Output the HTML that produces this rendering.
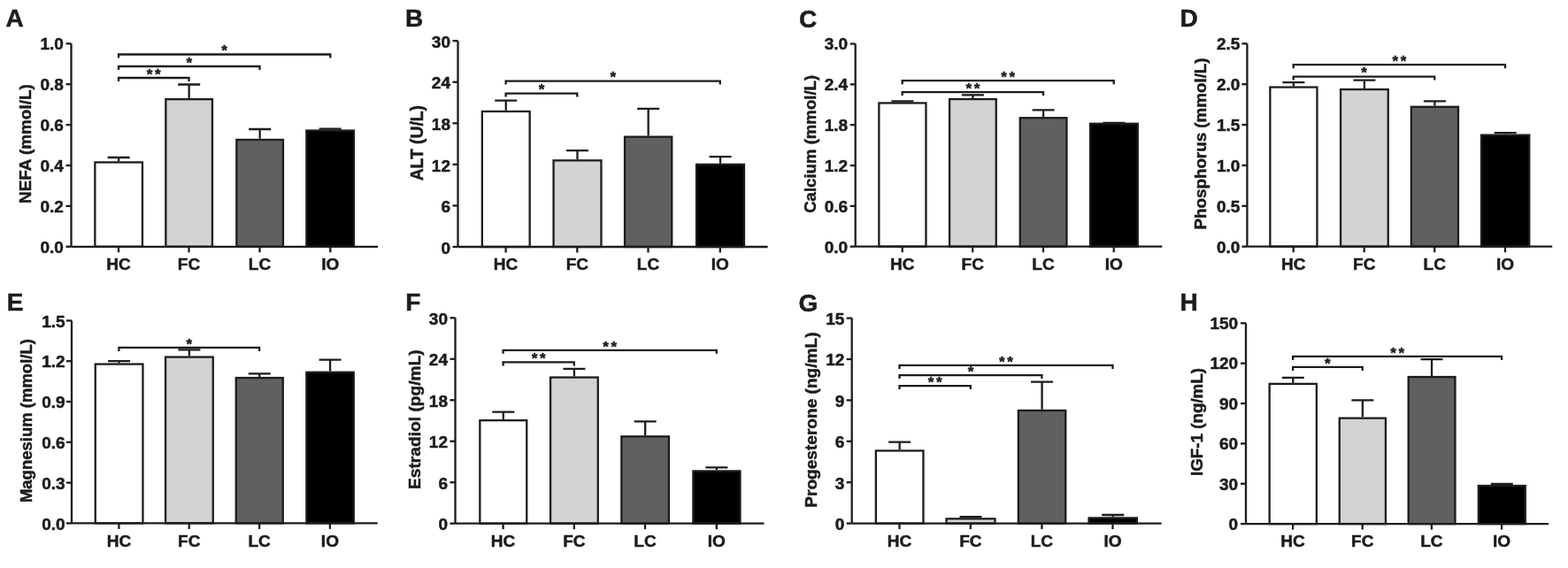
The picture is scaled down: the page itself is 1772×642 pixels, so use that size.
<!DOCTYPE html>
<html><head><meta charset="utf-8"><style>
html,body{margin:0;padding:0;background:#fff;}
svg{display:block;}
text{font-family:"Liberation Sans", Arial, sans-serif;fill:#1c1c1c;stroke:#1c1c1c;stroke-width:0.5px;}
.st{stroke:#1c1c1c;stroke-width:0.4px;letter-spacing:2.7px;}
</style></head><body>
<svg width="1772" height="642" viewBox="0 0 1772 642">
<rect width="1772" height="642" fill="#fff"/>
<text x="6.5" y="30.4" font-size="28" font-weight="bold">A</text>
<path d="M134.15 182.3V178M121.65 178H146.65" fill="none" stroke="#1c1c1c" stroke-width="2.3"/>
<rect x="107.35" y="183.45" width="53.6" height="95.35" fill="#ffffff" stroke="#1c1c1c" stroke-width="2.3"/>
<path d="M213.65 111V95.5M201.15 95.5H226.15" fill="none" stroke="#1c1c1c" stroke-width="2.3"/>
<rect x="187.35" y="112.15" width="52.6" height="166.65" fill="#d3d3d3" stroke="#1c1c1c" stroke-width="2.3"/>
<path d="M293.65 156.8V146M281.15 146H306.15" fill="none" stroke="#1c1c1c" stroke-width="2.3"/>
<rect x="267.35" y="157.95" width="52.6" height="120.85" fill="#606060" stroke="#1c1c1c" stroke-width="2.3"/>
<path d="M373.15 146.4V145.6M360.65 145.6H385.65" fill="none" stroke="#1c1c1c" stroke-width="2.3"/>
<rect x="346.35" y="147.55" width="53.6" height="131.25" fill="#000000" stroke="#1c1c1c" stroke-width="2.3"/>
<path d="M80.5 49.3V278.8M80.5 278.8H427" fill="none" stroke="#1c1c1c" stroke-width="2.3"/>
<path d="M74.5 278.8H80.5" stroke="#1c1c1c" stroke-width="2.3"/>
<text x="71.9" y="285.9" text-anchor="end" font-size="19" font-weight="bold">0.0</text>
<path d="M74.5 232.9H80.5" stroke="#1c1c1c" stroke-width="2.3"/>
<text x="71.9" y="240" text-anchor="end" font-size="19" font-weight="bold">0.2</text>
<path d="M74.5 187H80.5" stroke="#1c1c1c" stroke-width="2.3"/>
<text x="71.9" y="194.1" text-anchor="end" font-size="19" font-weight="bold">0.4</text>
<path d="M74.5 141.1H80.5" stroke="#1c1c1c" stroke-width="2.3"/>
<text x="71.9" y="148.2" text-anchor="end" font-size="19" font-weight="bold">0.6</text>
<path d="M74.5 95.2H80.5" stroke="#1c1c1c" stroke-width="2.3"/>
<text x="71.9" y="102.3" text-anchor="end" font-size="19" font-weight="bold">0.8</text>
<path d="M74.5 49.3H80.5" stroke="#1c1c1c" stroke-width="2.3"/>
<text x="71.9" y="56.4" text-anchor="end" font-size="19" font-weight="bold">1.0</text>
<path d="M134 278.8V285.3" stroke="#1c1c1c" stroke-width="2.3"/>
<text x="134" y="305.1" text-anchor="middle" font-size="19" font-weight="bold">HC</text>
<path d="M213.5 278.8V285.3" stroke="#1c1c1c" stroke-width="2.3"/>
<text x="213.5" y="305.1" text-anchor="middle" font-size="19" font-weight="bold">FC</text>
<path d="M293.5 278.8V285.3" stroke="#1c1c1c" stroke-width="2.3"/>
<text x="293.5" y="305.1" text-anchor="middle" font-size="19" font-weight="bold">LC</text>
<path d="M373.3 278.8V285.3" stroke="#1c1c1c" stroke-width="2.3"/>
<text x="373.3" y="305.1" text-anchor="middle" font-size="19" font-weight="bold">IO</text>
<path d="M134 92V88H213.5V92" fill="none" stroke="#1c1c1c" stroke-width="2.3"/>
<text x="175.1" y="89.8" text-anchor="middle" font-size="17" font-weight="bold" class="st">**</text>
<path d="M134 79V75H293.5V79" fill="none" stroke="#1c1c1c" stroke-width="2.3"/>
<text x="215.1" y="76.8" text-anchor="middle" font-size="17" font-weight="bold" class="st">*</text>
<path d="M134 65.5V61.5H373.3V65.5" fill="none" stroke="#1c1c1c" stroke-width="2.3"/>
<text x="255" y="63.3" text-anchor="middle" font-size="17" font-weight="bold" class="st">*</text>
<text transform="translate(35.3 162.6) rotate(-90)" text-anchor="middle" font-size="18.9" font-weight="bold">NEFA (mmol/L)</text>
<text x="458" y="30.4" font-size="28" font-weight="bold">B</text>
<path d="M571.75 124.8V113.6M559.25 113.6H584.25" fill="none" stroke="#1c1c1c" stroke-width="2.3"/>
<rect x="544.85" y="125.95" width="53.8" height="153.05" fill="#ffffff" stroke="#1c1c1c" stroke-width="2.3"/>
<path d="M652.5 180.2V170.2M640 170.2H665" fill="none" stroke="#1c1c1c" stroke-width="2.3"/>
<rect x="625.55" y="181.35" width="53.9" height="97.65" fill="#d3d3d3" stroke="#1c1c1c" stroke-width="2.3"/>
<path d="M732.65 153.5V122.8M720.15 122.8H745.15" fill="none" stroke="#1c1c1c" stroke-width="2.3"/>
<rect x="706.05" y="154.65" width="53.2" height="124.35" fill="#606060" stroke="#1c1c1c" stroke-width="2.3"/>
<path d="M814 184.7V177.1M801.5 177.1H826.5" fill="none" stroke="#1c1c1c" stroke-width="2.3"/>
<rect x="787.05" y="185.85" width="53.9" height="93.15" fill="#000000" stroke="#1c1c1c" stroke-width="2.3"/>
<path d="M517.5 46.2V279M517.5 279H867.6" fill="none" stroke="#1c1c1c" stroke-width="2.3"/>
<path d="M511.5 279H517.5" stroke="#1c1c1c" stroke-width="2.3"/>
<text x="509" y="286.7" text-anchor="end" font-size="19" font-weight="bold">0</text>
<path d="M511.5 232.44H517.5" stroke="#1c1c1c" stroke-width="2.3"/>
<text x="509" y="240.14" text-anchor="end" font-size="19" font-weight="bold">6</text>
<path d="M511.5 185.88H517.5" stroke="#1c1c1c" stroke-width="2.3"/>
<text x="509" y="193.58" text-anchor="end" font-size="19" font-weight="bold">12</text>
<path d="M511.5 139.32H517.5" stroke="#1c1c1c" stroke-width="2.3"/>
<text x="509" y="147.02" text-anchor="end" font-size="19" font-weight="bold">18</text>
<path d="M511.5 92.76H517.5" stroke="#1c1c1c" stroke-width="2.3"/>
<text x="509" y="100.46" text-anchor="end" font-size="19" font-weight="bold">24</text>
<path d="M511.5 46.2H517.5" stroke="#1c1c1c" stroke-width="2.3"/>
<text x="509" y="53.9" text-anchor="end" font-size="19" font-weight="bold">30</text>
<path d="M571.6 279V285.5" stroke="#1c1c1c" stroke-width="2.3"/>
<text x="571.6" y="305.3" text-anchor="middle" font-size="19" font-weight="bold">HC</text>
<path d="M652.3 279V285.5" stroke="#1c1c1c" stroke-width="2.3"/>
<text x="652.3" y="305.3" text-anchor="middle" font-size="19" font-weight="bold">FC</text>
<path d="M732.5 279V285.5" stroke="#1c1c1c" stroke-width="2.3"/>
<text x="732.5" y="305.3" text-anchor="middle" font-size="19" font-weight="bold">LC</text>
<path d="M813.8 279V285.5" stroke="#1c1c1c" stroke-width="2.3"/>
<text x="813.8" y="305.3" text-anchor="middle" font-size="19" font-weight="bold">IO</text>
<path d="M571.6 109.6V105.6H652.3V109.6" fill="none" stroke="#1c1c1c" stroke-width="2.3"/>
<text x="613.3" y="107.4" text-anchor="middle" font-size="17" font-weight="bold" class="st">*</text>
<path d="M571.6 95.6V91.6H813.8V95.6" fill="none" stroke="#1c1c1c" stroke-width="2.3"/>
<text x="694.05" y="93.4" text-anchor="middle" font-size="17" font-weight="bold" class="st">*</text>
<text transform="translate(478.4 161.65) rotate(-90)" text-anchor="middle" font-size="19.3" font-weight="bold">ALT (U/L)</text>
<text x="903" y="31.2" font-size="28" font-weight="bold">C</text>
<path d="M1019.9 115.3V114.3M1007.4 114.3H1032.4" fill="none" stroke="#1c1c1c" stroke-width="2.3"/>
<rect x="993.35" y="116.45" width="53.1" height="162.25" fill="#ffffff" stroke="#1c1c1c" stroke-width="2.3"/>
<path d="M1099.4 110.9V107.4M1086.9 107.4H1111.9" fill="none" stroke="#1c1c1c" stroke-width="2.3"/>
<rect x="1073.05" y="112.05" width="52.7" height="166.65" fill="#d3d3d3" stroke="#1c1c1c" stroke-width="2.3"/>
<path d="M1179.1 132.1V124.3M1166.6 124.3H1191.6" fill="none" stroke="#1c1c1c" stroke-width="2.3"/>
<rect x="1152.75" y="133.25" width="52.7" height="145.45" fill="#606060" stroke="#1c1c1c" stroke-width="2.3"/>
<path d="M1258.9 138.6V138.8M1246.4 138.8H1271.4" fill="none" stroke="#1c1c1c" stroke-width="2.3"/>
<rect x="1232.05" y="139.75" width="53.7" height="138.95" fill="#000000" stroke="#1c1c1c" stroke-width="2.3"/>
<path d="M966.7 49.5V278.7M966.7 278.7H1313.3" fill="none" stroke="#1c1c1c" stroke-width="2.3"/>
<path d="M960.7 278.7H966.7" stroke="#1c1c1c" stroke-width="2.3"/>
<text x="958.2" y="285.6" text-anchor="end" font-size="19" font-weight="bold">0.0</text>
<path d="M960.7 232.86H966.7" stroke="#1c1c1c" stroke-width="2.3"/>
<text x="958.2" y="239.76" text-anchor="end" font-size="19" font-weight="bold">0.6</text>
<path d="M960.7 187.02H966.7" stroke="#1c1c1c" stroke-width="2.3"/>
<text x="958.2" y="193.92" text-anchor="end" font-size="19" font-weight="bold">1.2</text>
<path d="M960.7 141.18H966.7" stroke="#1c1c1c" stroke-width="2.3"/>
<text x="958.2" y="148.08" text-anchor="end" font-size="19" font-weight="bold">1.8</text>
<path d="M960.7 95.34H966.7" stroke="#1c1c1c" stroke-width="2.3"/>
<text x="958.2" y="102.24" text-anchor="end" font-size="19" font-weight="bold">2.4</text>
<path d="M960.7 49.5H966.7" stroke="#1c1c1c" stroke-width="2.3"/>
<text x="958.2" y="56.4" text-anchor="end" font-size="19" font-weight="bold">3.0</text>
<path d="M1019.7 278.7V285.2" stroke="#1c1c1c" stroke-width="2.3"/>
<text x="1019.7" y="305" text-anchor="middle" font-size="19" font-weight="bold">HC</text>
<path d="M1099.2 278.7V285.2" stroke="#1c1c1c" stroke-width="2.3"/>
<text x="1099.2" y="305" text-anchor="middle" font-size="19" font-weight="bold">FC</text>
<path d="M1179 278.7V285.2" stroke="#1c1c1c" stroke-width="2.3"/>
<text x="1179" y="305" text-anchor="middle" font-size="19" font-weight="bold">LC</text>
<path d="M1258.7 278.7V285.2" stroke="#1c1c1c" stroke-width="2.3"/>
<text x="1258.7" y="305" text-anchor="middle" font-size="19" font-weight="bold">IO</text>
<path d="M1019.7 108.1V104.1H1179V108.1" fill="none" stroke="#1c1c1c" stroke-width="2.3"/>
<text x="1100.7" y="105.9" text-anchor="middle" font-size="17" font-weight="bold" class="st">**</text>
<path d="M1019.7 95.2V91.2H1258.7V95.2" fill="none" stroke="#1c1c1c" stroke-width="2.3"/>
<text x="1140.55" y="93" text-anchor="middle" font-size="17" font-weight="bold" class="st">**</text>
<text transform="translate(921.6 162.85) rotate(-90)" text-anchor="middle" font-size="18.6" font-weight="bold">Calcium (mmol/L)</text>
<text x="1333.5" y="30" font-size="28" font-weight="bold">D</text>
<path d="M1461.9 97.4V93.1M1449.4 93.1H1474.4" fill="none" stroke="#1c1c1c" stroke-width="2.3"/>
<rect x="1435.35" y="98.55" width="53.1" height="180.15" fill="#ffffff" stroke="#1c1c1c" stroke-width="2.3"/>
<path d="M1541.9 99.9V90.6M1529.4 90.6H1554.4" fill="none" stroke="#1c1c1c" stroke-width="2.3"/>
<rect x="1515.05" y="101.05" width="53.7" height="177.65" fill="#d3d3d3" stroke="#1c1c1c" stroke-width="2.3"/>
<path d="M1621.4 119.6V114.3M1608.9 114.3H1633.9" fill="none" stroke="#1c1c1c" stroke-width="2.3"/>
<rect x="1594.85" y="120.75" width="53.1" height="157.95" fill="#606060" stroke="#1c1c1c" stroke-width="2.3"/>
<path d="M1701.15 151.5V150.2M1688.65 150.2H1713.65" fill="none" stroke="#1c1c1c" stroke-width="2.3"/>
<rect x="1674.05" y="152.65" width="54.2" height="126.05" fill="#000000" stroke="#1c1c1c" stroke-width="2.3"/>
<path d="M1409.4 49.3V278.7M1409.4 278.7H1754.2" fill="none" stroke="#1c1c1c" stroke-width="2.3"/>
<path d="M1403.4 278.7H1409.4" stroke="#1c1c1c" stroke-width="2.3"/>
<text x="1401.3" y="285.5" text-anchor="end" font-size="19" font-weight="bold">0.0</text>
<path d="M1403.4 232.82H1409.4" stroke="#1c1c1c" stroke-width="2.3"/>
<text x="1401.3" y="239.62" text-anchor="end" font-size="19" font-weight="bold">0.5</text>
<path d="M1403.4 186.94H1409.4" stroke="#1c1c1c" stroke-width="2.3"/>
<text x="1401.3" y="193.74" text-anchor="end" font-size="19" font-weight="bold">1.0</text>
<path d="M1403.4 141.06H1409.4" stroke="#1c1c1c" stroke-width="2.3"/>
<text x="1401.3" y="147.86" text-anchor="end" font-size="19" font-weight="bold">1.5</text>
<path d="M1403.4 95.18H1409.4" stroke="#1c1c1c" stroke-width="2.3"/>
<text x="1401.3" y="101.98" text-anchor="end" font-size="19" font-weight="bold">2.0</text>
<path d="M1403.4 49.3H1409.4" stroke="#1c1c1c" stroke-width="2.3"/>
<text x="1401.3" y="56.1" text-anchor="end" font-size="19" font-weight="bold">2.5</text>
<path d="M1461.7 278.7V285.2" stroke="#1c1c1c" stroke-width="2.3"/>
<text x="1461.7" y="305" text-anchor="middle" font-size="19" font-weight="bold">HC</text>
<path d="M1541.7 278.7V285.2" stroke="#1c1c1c" stroke-width="2.3"/>
<text x="1541.7" y="305" text-anchor="middle" font-size="19" font-weight="bold">FC</text>
<path d="M1621.2 278.7V285.2" stroke="#1c1c1c" stroke-width="2.3"/>
<text x="1621.2" y="305" text-anchor="middle" font-size="19" font-weight="bold">LC</text>
<path d="M1701 278.7V285.2" stroke="#1c1c1c" stroke-width="2.3"/>
<text x="1701" y="305" text-anchor="middle" font-size="19" font-weight="bold">IO</text>
<path d="M1461.7 90.6V86.6H1621.2V90.6" fill="none" stroke="#1c1c1c" stroke-width="2.3"/>
<text x="1542.8" y="88.4" text-anchor="middle" font-size="17" font-weight="bold" class="st">*</text>
<path d="M1461.7 77.2V73.2H1701V77.2" fill="none" stroke="#1c1c1c" stroke-width="2.3"/>
<text x="1582.7" y="75" text-anchor="middle" font-size="17" font-weight="bold" class="st">**</text>
<text transform="translate(1363.3 162.45) rotate(-90)" text-anchor="middle" font-size="18.8" font-weight="bold">Phosphorus (mmol/L)</text>
<text x="7.7" y="351.2" font-size="28" font-weight="bold">E</text>
<path d="M134.6 410.4V408.1M122.1 408.1H147.1" fill="none" stroke="#1c1c1c" stroke-width="2.3"/>
<rect x="107.75" y="411.55" width="53.7" height="179.85" fill="#ffffff" stroke="#1c1c1c" stroke-width="2.3"/>
<path d="M213.9 402.4V395.4M201.4 395.4H226.4" fill="none" stroke="#1c1c1c" stroke-width="2.3"/>
<rect x="187.05" y="403.55" width="53.7" height="187.85" fill="#d3d3d3" stroke="#1c1c1c" stroke-width="2.3"/>
<path d="M293.25 425.9V422.3M280.75 422.3H305.75" fill="none" stroke="#1c1c1c" stroke-width="2.3"/>
<rect x="266.75" y="427.05" width="53" height="164.35" fill="#606060" stroke="#1c1c1c" stroke-width="2.3"/>
<path d="M373.05 419.6V406.6M360.55 406.6H385.55" fill="none" stroke="#1c1c1c" stroke-width="2.3"/>
<rect x="346.35" y="420.75" width="53.4" height="170.65" fill="#000000" stroke="#1c1c1c" stroke-width="2.3"/>
<path d="M81 362.4V591.4M81 591.4H426.7" fill="none" stroke="#1c1c1c" stroke-width="2.3"/>
<path d="M75 591.4H81" stroke="#1c1c1c" stroke-width="2.3"/>
<text x="73.6" y="598.5" text-anchor="end" font-size="19" font-weight="bold">0.0</text>
<path d="M75 545.6H81" stroke="#1c1c1c" stroke-width="2.3"/>
<text x="73.6" y="552.7" text-anchor="end" font-size="19" font-weight="bold">0.3</text>
<path d="M75 499.8H81" stroke="#1c1c1c" stroke-width="2.3"/>
<text x="73.6" y="506.9" text-anchor="end" font-size="19" font-weight="bold">0.6</text>
<path d="M75 454H81" stroke="#1c1c1c" stroke-width="2.3"/>
<text x="73.6" y="461.1" text-anchor="end" font-size="19" font-weight="bold">0.9</text>
<path d="M75 408.2H81" stroke="#1c1c1c" stroke-width="2.3"/>
<text x="73.6" y="415.3" text-anchor="end" font-size="19" font-weight="bold">1.2</text>
<path d="M75 362.4H81" stroke="#1c1c1c" stroke-width="2.3"/>
<text x="73.6" y="369.5" text-anchor="end" font-size="19" font-weight="bold">1.5</text>
<path d="M134.4 591.4V597.9" stroke="#1c1c1c" stroke-width="2.3"/>
<text x="134.4" y="617.7" text-anchor="middle" font-size="19" font-weight="bold">HC</text>
<path d="M213.7 591.4V597.9" stroke="#1c1c1c" stroke-width="2.3"/>
<text x="213.7" y="617.7" text-anchor="middle" font-size="19" font-weight="bold">FC</text>
<path d="M293.1 591.4V597.9" stroke="#1c1c1c" stroke-width="2.3"/>
<text x="293.1" y="617.7" text-anchor="middle" font-size="19" font-weight="bold">LC</text>
<path d="M372.9 591.4V597.9" stroke="#1c1c1c" stroke-width="2.3"/>
<text x="372.9" y="617.7" text-anchor="middle" font-size="19" font-weight="bold">IO</text>
<path d="M134.4 396.9V392.9H293.1V396.9" fill="none" stroke="#1c1c1c" stroke-width="2.3"/>
<text x="215.1" y="394.7" text-anchor="middle" font-size="17" font-weight="bold" class="st">*</text>
<text transform="translate(35.6 475.6) rotate(-90)" text-anchor="middle" font-size="18.5" font-weight="bold">Magnesium (mmol/L)</text>
<text x="458.2" y="351.4" font-size="28" font-weight="bold">F</text>
<path d="M568.8 474V465.7M556.3 465.7H581.3" fill="none" stroke="#1c1c1c" stroke-width="2.3"/>
<rect x="542.35" y="475.15" width="52.9" height="116.55" fill="#ffffff" stroke="#1c1c1c" stroke-width="2.3"/>
<path d="M648.9 425.4V416.9M636.4 416.9H661.4" fill="none" stroke="#1c1c1c" stroke-width="2.3"/>
<rect x="622.05" y="426.55" width="53.7" height="165.15" fill="#d3d3d3" stroke="#1c1c1c" stroke-width="2.3"/>
<path d="M729.15 492.2V476.4M716.65 476.4H741.65" fill="none" stroke="#1c1c1c" stroke-width="2.3"/>
<rect x="702.35" y="493.35" width="53.6" height="98.35" fill="#606060" stroke="#1c1c1c" stroke-width="2.3"/>
<path d="M809.9 531.3V528.3M797.4 528.3H822.4" fill="none" stroke="#1c1c1c" stroke-width="2.3"/>
<rect x="783.35" y="532.45" width="53.1" height="59.25" fill="#000000" stroke="#1c1c1c" stroke-width="2.3"/>
<path d="M514.5 359.3V591.7M514.5 591.7H863.5" fill="none" stroke="#1c1c1c" stroke-width="2.3"/>
<path d="M508.5 591.7H514.5" stroke="#1c1c1c" stroke-width="2.3"/>
<text x="506" y="599.4" text-anchor="end" font-size="19" font-weight="bold">0</text>
<path d="M508.5 545.22H514.5" stroke="#1c1c1c" stroke-width="2.3"/>
<text x="506" y="552.92" text-anchor="end" font-size="19" font-weight="bold">6</text>
<path d="M508.5 498.74H514.5" stroke="#1c1c1c" stroke-width="2.3"/>
<text x="506" y="506.44" text-anchor="end" font-size="19" font-weight="bold">12</text>
<path d="M508.5 452.26H514.5" stroke="#1c1c1c" stroke-width="2.3"/>
<text x="506" y="459.96" text-anchor="end" font-size="19" font-weight="bold">18</text>
<path d="M508.5 405.78H514.5" stroke="#1c1c1c" stroke-width="2.3"/>
<text x="506" y="413.48" text-anchor="end" font-size="19" font-weight="bold">24</text>
<path d="M508.5 359.3H514.5" stroke="#1c1c1c" stroke-width="2.3"/>
<text x="506" y="367" text-anchor="end" font-size="19" font-weight="bold">30</text>
<path d="M568.6 591.7V598.2" stroke="#1c1c1c" stroke-width="2.3"/>
<text x="568.6" y="618" text-anchor="middle" font-size="19" font-weight="bold">HC</text>
<path d="M648.8 591.7V598.2" stroke="#1c1c1c" stroke-width="2.3"/>
<text x="648.8" y="618" text-anchor="middle" font-size="19" font-weight="bold">FC</text>
<path d="M729 591.7V598.2" stroke="#1c1c1c" stroke-width="2.3"/>
<text x="729" y="618" text-anchor="middle" font-size="19" font-weight="bold">LC</text>
<path d="M809.8 591.7V598.2" stroke="#1c1c1c" stroke-width="2.3"/>
<text x="809.8" y="618" text-anchor="middle" font-size="19" font-weight="bold">IO</text>
<path d="M568.6 413.4V409.4H648.8V413.4" fill="none" stroke="#1c1c1c" stroke-width="2.3"/>
<text x="610.05" y="411.2" text-anchor="middle" font-size="17" font-weight="bold" class="st">**</text>
<path d="M568.6 399.8V395.8H809.8V399.8" fill="none" stroke="#1c1c1c" stroke-width="2.3"/>
<text x="690.55" y="397.6" text-anchor="middle" font-size="17" font-weight="bold" class="st">**</text>
<text transform="translate(474.5 474.15) rotate(-90)" text-anchor="middle" font-size="19.2" font-weight="bold">Estradiol (pg/mL)</text>
<text x="902.5" y="352.2" font-size="28" font-weight="bold">G</text>
<path d="M1016.65 508.3V499.7M1004.15 499.7H1029.15" fill="none" stroke="#1c1c1c" stroke-width="2.3"/>
<rect x="989.85" y="509.45" width="53.6" height="82.15" fill="#ffffff" stroke="#1c1c1c" stroke-width="2.3"/>
<path d="M1097 585.2V584.2M1084.5 584.2H1109.5" fill="none" stroke="#1c1c1c" stroke-width="2.3"/>
<rect x="1069.55" y="586.35" width="54.9" height="5.25" fill="#d3d3d3" stroke="#1c1c1c" stroke-width="2.3"/>
<path d="M1177.55 462.8V431.6M1165.05 431.6H1190.05" fill="none" stroke="#1c1c1c" stroke-width="2.3"/>
<rect x="1150.85" y="463.95" width="53.4" height="127.65" fill="#606060" stroke="#1c1c1c" stroke-width="2.3"/>
<path d="M1257.7 584.3V582M1245.2 582H1270.2" fill="none" stroke="#1c1c1c" stroke-width="2.3"/>
<rect x="1230.55" y="585.45" width="54.3" height="6.15" fill="#000000" stroke="#1c1c1c" stroke-width="2.3"/>
<path d="M962.7 359.6V591.6M962.7 591.6H1312.6" fill="none" stroke="#1c1c1c" stroke-width="2.3"/>
<path d="M956.7 591.6H962.7" stroke="#1c1c1c" stroke-width="2.3"/>
<text x="954.4" y="599" text-anchor="end" font-size="19" font-weight="bold">0</text>
<path d="M956.7 545.2H962.7" stroke="#1c1c1c" stroke-width="2.3"/>
<text x="954.4" y="552.6" text-anchor="end" font-size="19" font-weight="bold">3</text>
<path d="M956.7 498.8H962.7" stroke="#1c1c1c" stroke-width="2.3"/>
<text x="954.4" y="506.2" text-anchor="end" font-size="19" font-weight="bold">6</text>
<path d="M956.7 452.4H962.7" stroke="#1c1c1c" stroke-width="2.3"/>
<text x="954.4" y="459.8" text-anchor="end" font-size="19" font-weight="bold">9</text>
<path d="M956.7 406H962.7" stroke="#1c1c1c" stroke-width="2.3"/>
<text x="954.4" y="413.4" text-anchor="end" font-size="19" font-weight="bold">12</text>
<path d="M956.7 359.6H962.7" stroke="#1c1c1c" stroke-width="2.3"/>
<text x="954.4" y="367" text-anchor="end" font-size="19" font-weight="bold">15</text>
<path d="M1016.5 591.6V598.1" stroke="#1c1c1c" stroke-width="2.3"/>
<text x="1016.5" y="617.9" text-anchor="middle" font-size="19" font-weight="bold">HC</text>
<path d="M1096.8 591.6V598.1" stroke="#1c1c1c" stroke-width="2.3"/>
<text x="1096.8" y="617.9" text-anchor="middle" font-size="19" font-weight="bold">FC</text>
<path d="M1177.4 591.6V598.1" stroke="#1c1c1c" stroke-width="2.3"/>
<text x="1177.4" y="617.9" text-anchor="middle" font-size="19" font-weight="bold">LC</text>
<path d="M1257.5 591.6V598.1" stroke="#1c1c1c" stroke-width="2.3"/>
<text x="1257.5" y="617.9" text-anchor="middle" font-size="19" font-weight="bold">IO</text>
<path d="M1016.5 440.1V436.1H1096.8V440.1" fill="none" stroke="#1c1c1c" stroke-width="2.3"/>
<text x="1058" y="437.9" text-anchor="middle" font-size="17" font-weight="bold" class="st">**</text>
<path d="M1016.5 428.1V424.1H1177.4V428.1" fill="none" stroke="#1c1c1c" stroke-width="2.3"/>
<text x="1098.3" y="425.9" text-anchor="middle" font-size="17" font-weight="bold" class="st">*</text>
<path d="M1016.5 416.9V412.9H1257.5V416.9" fill="none" stroke="#1c1c1c" stroke-width="2.3"/>
<text x="1138.35" y="414.7" text-anchor="middle" font-size="17" font-weight="bold" class="st">**</text>
<text transform="translate(923 474.6) rotate(-90)" text-anchor="middle" font-size="19.1" font-weight="bold">Progesterone (ng/mL)</text>
<text x="1333.5" y="351" font-size="28" font-weight="bold">H</text>
<path d="M1461.25 432.7V426.8M1448.75 426.8H1473.75" fill="none" stroke="#1c1c1c" stroke-width="2.3"/>
<rect x="1434.65" y="433.85" width="53.2" height="158.25" fill="#ffffff" stroke="#1c1c1c" stroke-width="2.3"/>
<path d="M1539.85 471.5V452.3M1527.35 452.3H1552.35" fill="none" stroke="#1c1c1c" stroke-width="2.3"/>
<rect x="1513.75" y="472.65" width="52.2" height="119.45" fill="#d3d3d3" stroke="#1c1c1c" stroke-width="2.3"/>
<path d="M1618.05 424.9V406.2M1605.55 406.2H1630.55" fill="none" stroke="#1c1c1c" stroke-width="2.3"/>
<rect x="1591.65" y="426.05" width="52.8" height="166.05" fill="#606060" stroke="#1c1c1c" stroke-width="2.3"/>
<path d="M1697.3 547.9V547M1684.8 547H1709.8" fill="none" stroke="#1c1c1c" stroke-width="2.3"/>
<rect x="1670.85" y="549.05" width="52.9" height="43.05" fill="#000000" stroke="#1c1c1c" stroke-width="2.3"/>
<path d="M1408 365.3V592.1M1408 592.1H1750.1" fill="none" stroke="#1c1c1c" stroke-width="2.3"/>
<path d="M1402 592.1H1408" stroke="#1c1c1c" stroke-width="2.3"/>
<text x="1399.2" y="598.9" text-anchor="end" font-size="19" font-weight="bold">0</text>
<path d="M1402 546.74H1408" stroke="#1c1c1c" stroke-width="2.3"/>
<text x="1399.2" y="553.54" text-anchor="end" font-size="19" font-weight="bold">30</text>
<path d="M1402 501.38H1408" stroke="#1c1c1c" stroke-width="2.3"/>
<text x="1399.2" y="508.18" text-anchor="end" font-size="19" font-weight="bold">60</text>
<path d="M1402 456.02H1408" stroke="#1c1c1c" stroke-width="2.3"/>
<text x="1399.2" y="462.82" text-anchor="end" font-size="19" font-weight="bold">90</text>
<path d="M1402 410.66H1408" stroke="#1c1c1c" stroke-width="2.3"/>
<text x="1399.2" y="417.46" text-anchor="end" font-size="19" font-weight="bold">120</text>
<path d="M1402 365.3H1408" stroke="#1c1c1c" stroke-width="2.3"/>
<text x="1399.2" y="372.1" text-anchor="end" font-size="19" font-weight="bold">150</text>
<path d="M1461.1 592.1V598.6" stroke="#1c1c1c" stroke-width="2.3"/>
<text x="1461.1" y="618.4" text-anchor="middle" font-size="19" font-weight="bold">HC</text>
<path d="M1539.7 592.1V598.6" stroke="#1c1c1c" stroke-width="2.3"/>
<text x="1539.7" y="618.4" text-anchor="middle" font-size="19" font-weight="bold">FC</text>
<path d="M1617.9 592.1V598.6" stroke="#1c1c1c" stroke-width="2.3"/>
<text x="1617.9" y="618.4" text-anchor="middle" font-size="19" font-weight="bold">LC</text>
<path d="M1697.1 592.1V598.6" stroke="#1c1c1c" stroke-width="2.3"/>
<text x="1697.1" y="618.4" text-anchor="middle" font-size="19" font-weight="bold">IO</text>
<path d="M1461.1 418.9V414.9H1539.7V418.9" fill="none" stroke="#1c1c1c" stroke-width="2.3"/>
<text x="1501.75" y="416.7" text-anchor="middle" font-size="17" font-weight="bold" class="st">*</text>
<path d="M1461.1 406.9V402.9H1697.1V406.9" fill="none" stroke="#1c1c1c" stroke-width="2.3"/>
<text x="1580.45" y="404.7" text-anchor="middle" font-size="17" font-weight="bold" class="st">**</text>
<text transform="translate(1358.7 477) rotate(-90)" text-anchor="middle" font-size="18.8" font-weight="bold">IGF-1 (ng/mL)</text>
</svg>
</body></html>
